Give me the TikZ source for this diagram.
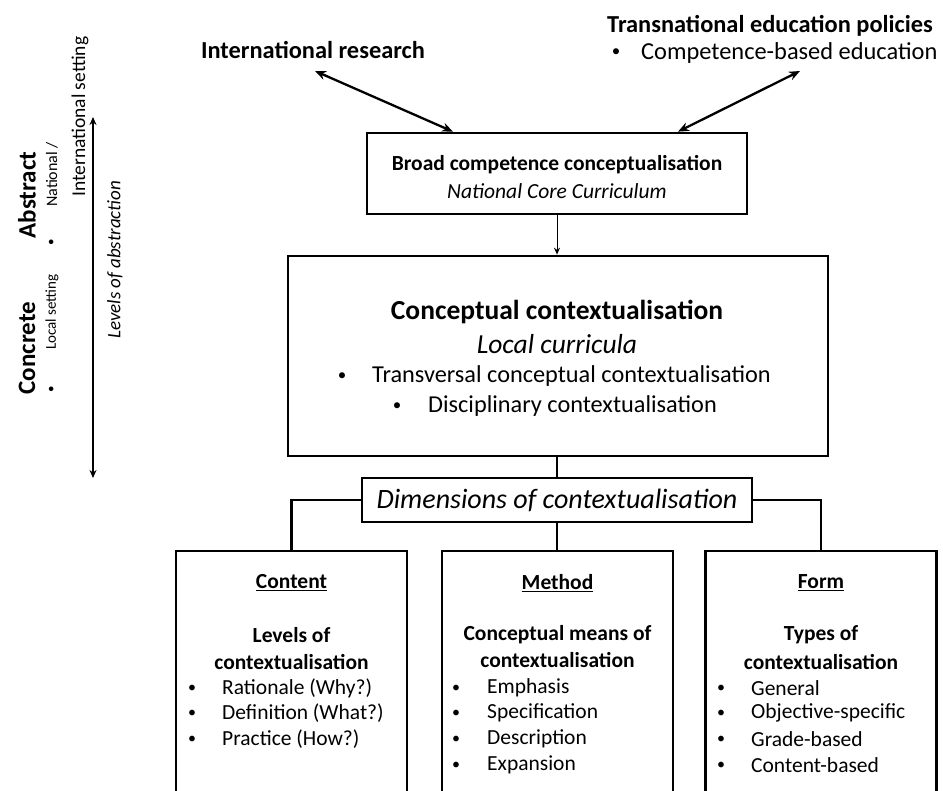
\documentclass[tikz,border=0pt]{standalone}
\usepackage{fontspec}
\setmainfont{Carlito}
\usetikzlibrary{arrows.meta}
\newcommand\fsz[1]{\fontsize{#1}{#1}\selectfont}
\begin{document}
\begin{tikzpicture}[x=1pt,y=-1pt,
  box/.style={draw,line width=2.7pt,inner sep=0pt},
  conn/.style={line width=2.6pt},
  dbl/.style={line width=2.3pt,{Stealth[length=11pt,width=9pt]}-{Stealth[length=11pt,width=9pt]}},
  tx/.style={inner sep=0pt,font=\fsz{16}},
  txl/.style={inner sep=0pt,anchor=west,font=\fsz{21.5}},
  rot/.style={inner sep=0pt,rotate=90},
  hd/.style={inner sep=0pt,font=\fsz{21.5}\bfseries}]
\useasboundingbox (0,0) rectangle (943,791);
\clip (0,0) rectangle (943,791);

% left side
\node[rot,font=\fsz{25}\bfseries] (abs) at (27,195) {Abstract};
\node[rot,font=\fsz{25}\bfseries] (con) at (27,348) {Concrete};
\node[rot,font=\fsz{13}] (b1) at (52,242) {•};
\node[rot,anchor=west,font=\fsz{16}] (nat) at (52,207) {National /};
\node[rot,anchor=west,font=\fsz{19.5}] (intl) at (80,197) {International setting};
\node[rot,font=\fsz{13}] (b2) at (52,389) {•};
\node[rot,anchor=west,font=\fsz{15}] (loc) at (52,350) {Local setting};
\node[rot,font=\fsz{19}\itshape] (lev) at (115,260) {Levels of abstraction};
\coordinate (lt) at (93,117);
\coordinate (lb) at (93,478);
\draw[line width=2pt,{Stealth[length=8pt,width=7pt]}-{Stealth[length=8pt,width=7pt]}] (lt) -- (lb);

% top texts
\node[inner sep=0pt,font=\fsz{24.4}\bfseries] (ir) at (313,50) {International research};
\node[inner sep=0pt,font=\fsz{24.4}\bfseries,anchor=west] (tep) at (607,26) {Transnational education policies};
\node[inner sep=0pt,font=\fsz{17}] (tb) at (616,53) {•};
\node[inner sep=0pt,font=\fsz{24.4},anchor=west] (cbe) at (641,53) {Competence-based education};
\coordinate (irend) at (315,71);
\coordinate (tepend) at (800,71);

% broad box
\node[box,minimum width=380pt,minimum height=81pt] (broad) at (557,173.5) {};
\node[inner sep=0pt,font=\fsz{21.5}\bfseries] (broadt) at (557,165) {Broad competence conceptualisation};
\node[inner sep=0pt,font=\fsz{21.5}\itshape] (broadi) at (557,191) {National Core Curriculum};
\draw[dbl] (irend) -- ([xshift=-104pt]broad.north);
\draw[dbl] (tepend) -- ([xshift=121pt]broad.north);

% main box
\node[box,minimum width=540pt,minimum height=200pt] (main) at (558,356) {};
\node[inner sep=0pt,font=\fsz{27.5}\bfseries] (mt) at (557,312) {Conceptual contextualisation};
\node[inner sep=0pt,font=\fsz{27.5}\itshape] (mi) at (557,344) {Local curricula};
\node[inner sep=0pt,font=\fsz{17}] (mb1) at (342,377) {•};
\node[inner sep=0pt,font=\fsz{24.3},anchor=west] (mt1) at (372,376) {Transversal conceptual contextualisation};
\node[inner sep=0pt,font=\fsz{17}] (mb2) at (397,407) {•};
\node[inner sep=0pt,font=\fsz{24.3},anchor=west] (mt2) at (428,406) {Disciplinary contextualisation};
\draw[line width=1pt,-{Stealth[length=7pt,width=6pt]}] (broad.south) -- (broad.south |- main.north);

% dimensions
\node[box,minimum width=390pt,minimum height=44pt,font=\fsz{28}\itshape] (dims) at (557,500) {Dimensions of contextualisation};
\draw[conn] (main.south -| dims.north) -- (dims.north);

% bottom boxes
\node[box,minimum width=231pt,minimum height=300pt] (cont) at (291.5,701) {};
\node[box,minimum width=231pt,minimum height=300pt] (meth) at (557.5,701) {};
\node[box,minimum width=231pt,minimum height=300pt] (form) at (821,701) {};
\draw[conn] (dims.west) -| (cont.north);
\draw[conn] (dims.east) -| (form.north);
\draw[conn] (dims.south) -- (dims.south |- meth.north);

% content
\node[hd] (c0) at (291.5,583) {\underline{Content}};
\node[hd] (c1) at (291.5,635) {Levels of};
\node[hd] (c2) at (291.5,662) {contextualisation};
\node[tx] (cb1) at (192,689) {•};
\node[txl] (ct1) at (222,688) {Rationale (Why?)};
\node[tx] (cb2) at (192,714) {•};
\node[txl] (ct2) at (222,713) {Definition (What?)};
\node[tx] (cb3) at (192,740) {•};
\node[txl] (ct3) at (222,739) {Practice (How?)};

% method
\node[hd] (m0) at (557.5,583) {\underline{Method}};
\node[hd] (m1) at (557.5,635) {Conceptual means of};
\node[hd] (m2) at (557.5,660) {contextualisation};
\node[tx] (mbb1) at (456,689) {•};
\node[txl] (mtt1) at (487,688) {Emphasis};
\node[tx] (mbb2) at (456,714) {•};
\node[txl] (mtt2) at (487,713) {Specification};
\node[tx] (mbb3) at (456,740) {•};
\node[txl] (mtt3) at (487,739) {Description};
\node[tx] (mbb4) at (456,766) {•};
\node[txl] (mtt4) at (487,765) {Expansion};

% form
\node[hd] (f0) at (821,583) {\underline{Form}};
\node[hd] (f1) at (821,635) {Types of};
\node[hd] (f2) at (821,662) {contextualisation};
\node[tx] (fb1) at (721,689) {•};
\node[txl] (ft1) at (751,688) {General};
\node[tx] (fb2) at (721,714) {•};
\node[txl] (ft2) at (751,713) {Objective-specific};
\node[tx] (fb3) at (721,740) {•};
\node[txl] (ft3) at (751,739) {Grade-based};
\node[tx] (fb4) at (721,766) {•};
\node[txl] (ft4) at (751,765) {Content-based};
\end{tikzpicture}
\end{document}
